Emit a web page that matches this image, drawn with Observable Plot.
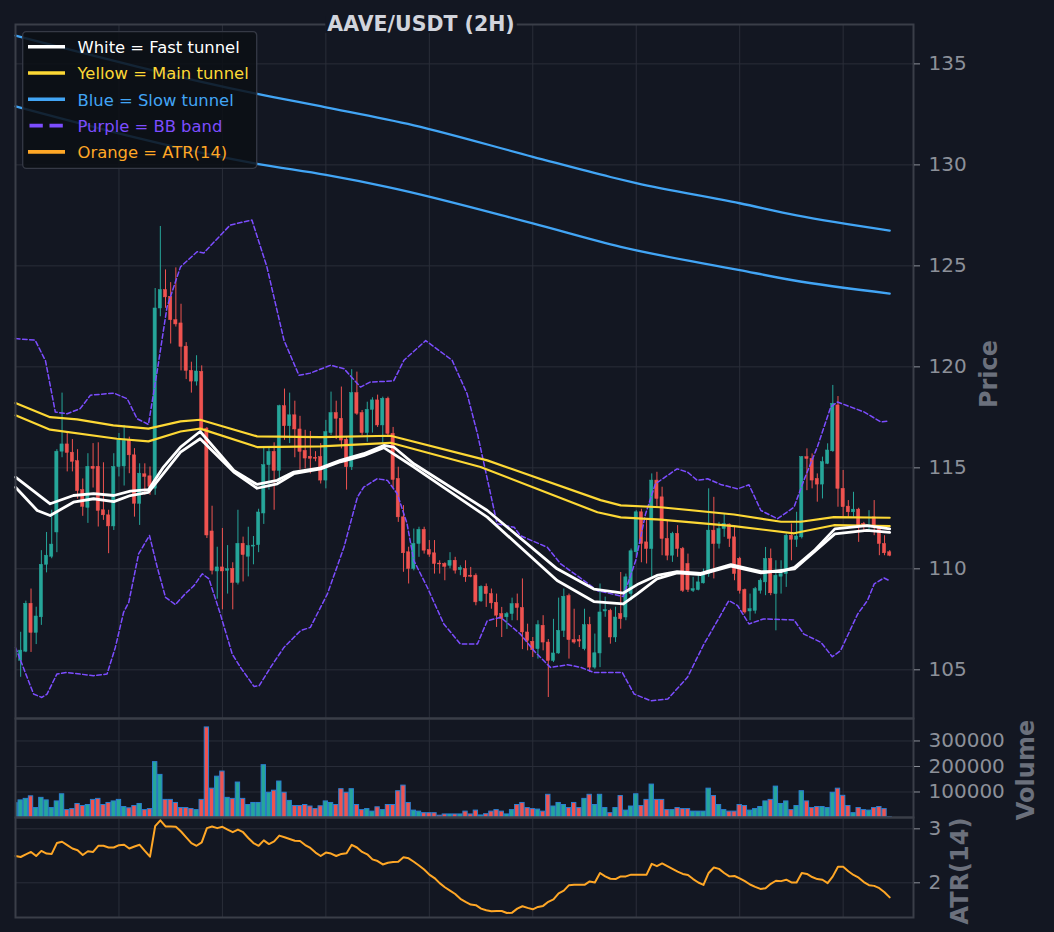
<!DOCTYPE html>
<html><head><meta charset="utf-8">
<script src="https://cdn.jsdelivr.net/npm/d3@7"></script>
<script src="https://cdn.jsdelivr.net/npm/@observablehq/plot@0.6"></script>
<style>
html,body{margin:0;padding:0;background:#131722;}
#wrap{position:relative;width:1054px;height:932px;background:#131722;overflow:hidden;font-family:"DejaVu Sans",sans-serif;}
#wrap svg{position:absolute;left:0;}
</style></head>
<body><div id="wrap"></div>
<script>
// ---------- data ----------
const OPEN = [105.6,105.45,105.9,108.27,106.83,107.6,110.2,110.6,111.8,115.8,
116.16,115.75,115.33,113.9,113.02,115.05,115.05,112.9,112.65,112.1,
115.04,115.07,116.33,115.62,113.22,114.68,114.58,113.97,122.89,123.8,
123.47,122.31,122.15,121.0,119.8,119.27,119.75,116.94,111.85,109.87,
110.07,109.9,110.0,109.3,111.24,110.6,111.1,111.17,112.74,115.13,
115.79,114.85,118.05,117.06,117.6,116.9,115.84,115.55,115.5,115.53,
114.37,116.72,117.71,117.43,116.39,115.03,118.7,117.71,116.72,117.87,
118.34,117.1,118.42,116.68,114.45,112.55,110.82,109.99,111.23,111.93,
110.93,110.77,110.26,110.24,110.15,110.4,109.94,109.99,109.66,109.66,
108.39,109.11,108.75,108.32,107.76,107.6,107.76,108.25,108.06,106.85,
106.39,106.02,107.18,106.35,105.44,105.81,106.93,108.65,106.47,106.47,
106.02,107.21,105.11,105.81,107.89,107.92,106.6,107.76,107.59,108.75,
110.82,112.8,111.31,110.98,114.37,113.54,111.48,110.65,111.73,110.98,
110.24,108.91,108.95,109.28,109.74,111.89,111.23,111.97,112.19,111.56,
110.49,108.95,107.89,107.92,108.91,109.33,110.49,108.75,109.61,109.74,
111.64,111.44,111.56,115.53,115.44,114.45,114.17,115.2,115.82,118.09,
113.96,113.08,112.8,112.93,112.22,112.06,112.55,112.06,111.23,110.82];
const HIGH = [106.6,106.86,108.4,109.0,108.1,110.9,111.8,112.9,115.9,118.7,
116.7,116.4,115.9,114.45,115.7,116.2,116.24,115.25,112.9,115.7,
116.7,117.1,116.52,115.95,115.2,115.2,115.04,123.88,126.95,124.8,
124.17,124.9,123.1,121.2,120.23,120.55,120.05,117.0,113.1,111.07,
112.0,111.15,110.3,112.9,111.57,112.06,111.6,112.95,116.0,116.03,
116.24,118.1,118.9,118.7,118.3,117.55,116.86,116.8,115.8,116.2,
117.35,118.75,118.3,119.0,116.55,119.86,119.74,117.84,118.25,118.47,
118.6,118.5,118.5,117.0,115.03,113.13,111.07,111.97,112.06,112.06,
111.4,111.4,110.4,110.3,110.8,110.57,110.15,110.4,110.07,109.75,
109.16,109.25,109.0,108.75,108.09,107.84,108.55,108.75,109.5,107.26,
106.6,107.43,107.68,106.5,107.5,108.55,109.0,108.75,108.0,106.7,
108.0,107.6,106.77,109.25,108.6,108.0,108.1,109.82,109.74,110.98,
112.88,112.95,112.39,114.7,114.78,114.04,112.39,111.81,112.14,111.06,
110.73,109.58,109.74,109.99,113.96,113.54,112.3,112.72,112.22,112.06,
110.57,109.0,108.75,109.08,109.5,111.06,110.98,110.4,110.4,111.73,
112.22,112.8,115.56,115.94,115.69,114.7,115.53,116.19,119.08,118.53,
114.87,113.38,113.79,113.0,112.3,112.88,113.38,112.14,111.64,110.9];
const LOW = [105.2,104.63,105.85,105.86,106.25,107.2,109.8,110.5,110.8,115.5,
114.8,114.8,113.45,112.6,112.25,114.0,112.07,112.4,110.75,111.9,
114.55,114.1,114.71,112.56,112.15,113.64,113.64,113.64,122.48,122.9,
121.13,121.97,119.8,119.37,118.7,119.05,116.8,111.5,109.7,108.5,
107.97,108.75,107.97,109.2,109.35,109.6,110.2,110.8,112.2,113.9,
112.9,114.22,116.36,116.2,115.5,114.9,114.95,114.7,115.3,114.2,
113.96,116.6,116.4,115.94,113.9,114.87,117.6,116.6,116.27,116.72,
117.0,116.2,116.5,114.0,112.3,109.83,109.25,109.9,110.57,110.73,
110.57,109.74,109.74,109.41,110.0,109.74,109.66,109.33,109.56,108.17,
108.34,108.09,108.0,107.1,106.6,107.0,107.43,107.43,106.0,105.94,
105.61,105.53,105.94,103.63,105.36,105.77,106.6,105.53,106.27,106.1,
105.94,104.87,105.03,105.11,107.6,106.27,106.35,107.01,107.43,108.42,
110.6,110.3,110.24,109.58,113.05,110.65,110.4,110.32,110.57,108.83,
108.83,108.83,108.91,109.25,109.58,109.5,110.98,111.56,111.06,109.41,
108.75,107.76,107.43,107.76,108.75,108.67,108.67,106.93,108.75,109.08,
110.4,111.06,111.48,113.87,113.96,113.3,113.46,115.16,115.77,113.05,
112.55,112.55,112.55,111.31,111.89,111.89,111.64,110.65,110.65,110.6];
const CLOSE = [106.0,105.95,108.27,106.83,107.64,110.2,110.65,111.2,115.8,116.16,
115.74,115.3,113.85,113.07,115.05,114.95,112.87,112.65,112.1,115.04,
116.36,116.33,115.62,113.22,114.71,114.55,114.05,122.89,123.8,123.44,
122.31,122.1,120.99,119.8,119.27,119.77,116.94,111.65,109.9,110.07,
109.87,109.98,109.3,111.24,110.68,111.13,111.15,112.79,115.13,115.79,
114.85,118.05,117.06,117.6,116.9,115.79,115.46,115.45,115.45,114.37,
116.77,117.71,117.43,116.35,115.03,118.7,117.68,116.72,117.87,118.34,
117.1,118.42,116.68,114.4,112.55,110.77,109.99,111.23,111.93,110.9,
110.7,110.24,110.22,110.1,110.4,109.91,110.04,109.58,109.61,108.34,
109.11,108.75,108.29,107.68,107.51,107.76,108.25,108.06,106.85,106.43,
105.97,107.21,106.35,105.44,105.81,106.93,108.62,106.47,106.35,106.4,
107.21,105.11,105.82,107.84,107.95,106.6,107.59,107.51,109.58,110.87,
112.8,111.23,110.98,114.37,113.46,111.48,110.65,111.73,110.98,108.91,
108.95,108.99,109.33,109.74,111.89,111.23,111.97,112.22,111.48,109.74,
108.91,107.84,108.0,108.99,109.41,110.49,108.79,109.66,109.74,111.64,
111.44,111.6,115.53,115.44,114.37,114.17,115.28,115.86,118.17,113.96,
113.05,112.8,112.93,112.06,112.06,112.14,112.06,111.23,110.77,110.65];
const VOLUME = [56000,67000,73000,83000,37000,77000,67000,37000,63000,91000,
29000,33000,53000,45000,49000,69000,73000,49000,57000,63000,
69000,41000,36000,45000,53000,29000,33000,217000,167000,69000,
69000,57000,37000,37000,33000,29000,69000,353000,113000,160000,
180000,77000,73000,137000,73000,49000,57000,57000,205000,97000,
105000,141000,97000,65000,45000,45000,49000,43000,33000,44000,
63000,57000,49000,111000,97000,111000,49000,29000,33000,23000,
40000,29000,49000,49000,103000,125000,57000,27000,23000,17000,
17000,17000,7000,12000,12000,12000,12000,23000,12000,27000,
8000,13000,23000,29000,23000,12000,29000,49000,57000,37000,
33000,31000,23000,89000,43000,57000,49000,37000,57000,37000,
73000,89000,49000,89000,37000,17000,37000,84000,27000,43000,
91000,45000,69000,129000,69000,69000,29000,29000,37000,33000,
33000,23000,23000,23000,113000,84000,49000,29000,23000,23000,
49000,45000,27000,33000,41000,63000,69000,121000,53000,63000,
29000,45000,103000,63000,37000,41000,41000,37000,97000,113000,
85000,45000,17000,37000,29000,27000,37000,41000,33000,1500];
const ATR = [2.497,2.478,2.528,2.572,2.497,2.591,2.541,2.535,2.736,2.761,
2.698,2.635,2.604,2.516,2.585,2.572,2.686,2.686,2.654,2.654,
2.698,2.704,2.635,2.673,2.704,2.591,2.484,3.05,3.157,3.044,
3.044,3.038,2.95,2.843,2.736,2.686,2.748,3.013,3.044,3.013,
3.038,2.987,2.937,2.987,2.937,2.83,2.736,2.686,2.786,2.717,
2.767,2.874,2.843,2.811,2.78,2.774,2.70,2.645,2.56,2.497,
2.56,2.541,2.497,2.535,2.547,2.704,2.654,2.572,2.528,2.434,
2.403,2.34,2.371,2.384,2.39,2.472,2.453,2.39,2.321,2.245,
2.151,2.088,1.994,1.918,1.855,1.792,1.704,1.648,1.597,1.585,
1.522,1.491,1.472,1.478,1.478,1.44,1.447,1.522,1.566,1.535,
1.509,1.553,1.572,1.648,1.692,1.805,1.855,1.956,1.962,1.962,
1.962,2.025,2.006,2.182,2.119,2.075,2.069,2.119,2.119,2.151,
2.151,2.151,2.151,2.352,2.308,2.358,2.308,2.258,2.208,2.164,
2.145,2.069,2.006,1.96,2.182,2.283,2.258,2.182,2.119,2.126,
2.082,2.031,1.969,1.925,1.887,1.9,1.981,2.038,2.031,2.057,
2.006,2.006,2.182,2.164,2.107,2.069,2.057,1.994,2.119,2.296,
2.296,2.214,2.145,2.094,2.013,1.956,1.943,1.9,1.824,1.73];

const FAST_UP_IDX = [0,6.7,11.2,15.1,19,22.2,25.7,28.6,31.9,35.7,42.2,46.7,50.6,53.8,59,62.8,67.3,71.2,73.1,77,91.2,104.7,111.8,117.5,120.2,124,127.9,132.5,138.3,144.1,148,150.6,154.4,158.4,164.6,169];
const FAST_UP_VAL = [114.54,113.22,113.63,113.72,113.63,113.85,113.92,115.04,116.03,116.80,114.87,114.18,114.38,114.79,115.0,115.37,115.70,116.11,116.03,115.2,112.89,110.0,109.0,108.8,109.22,109.67,109.86,109.78,110.21,109.86,109.86,110.08,110.9,111.98,112.14,111.98];
const FAST_LO_IDX = [0,4.2,6.7,11.2,15.1,19,22.2,25.7,31.9,35.7,42.2,46.7,50.6,53.8,59,62.8,67.3,71.2,77,91.2,104.7,111.8,117.5,120.2,124,127.9,132.5,138.3,144.1,150.6,158.4,164.6,169];
const FAST_LO_VAL = [114.04,112.89,112.64,113.30,113.47,113.33,113.63,113.79,115.78,116.44,114.79,113.99,114.21,114.71,114.95,115.3,115.6,116.0,115.04,112.56,109.42,108.38,108.26,108.76,109.5,109.8,109.72,110.13,109.8,110.0,111.73,111.9,111.81];
const MAIN_UP_IDX = [0,6.7,11.9,18.9,25.7,31.9,35.7,46.7,59,72.5,91.2,113.1,117,124.7,138.9,148,151.8,158.2,169];
const MAIN_UP_VAL = [118.21,117.51,117.40,117.10,116.94,117.30,117.38,116.56,116.52,116.59,115.37,113.4,113.14,113.05,112.69,112.33,112.33,112.56,112.53];
const MAIN_LO_IDX = [0,6.7,19.6,25.7,31.9,35.7,46.7,59,72.5,89.9,112.5,117,124.7,138.9,150.5,158.2,169];
const MAIN_LO_VAL = [117.60,116.89,116.44,116.31,116.80,116.94,116.03,116.06,116.24,115.04,112.80,112.55,112.44,112.11,111.76,112.16,112.11];
const SLOW_UP_IDX = [0,47,60,77,100,115,120,140,151,169];
const SLOW_UP_VAL = [136.4,133.5,132.85,131.96,130.4,129.4,129.1,128.1,127.5,126.75];
const SLOW_LO_IDX = [0,47,60,72,100,117,140,150,169];
const SLOW_LO_VAL = [132.9,130.04,129.5,128.9,127.1,125.94,124.79,124.3,123.63];
const BB_UP_IDX = [0,3.8,5.8,7.7,10,12.5,14.5,19,21.6,23.5,25.7,27.4,29.3,31.9,35.1,36.4,41.5,45.7,48.6,51.9,54.8,57,60.9,63.5,66.7,68.6,73.1,75.1,79.3,84.4,87.3,89.3,93.1,96.4,97.6,102.8,105.4,109.9,112.5,117.5,119.9,121.8,123.7,127.9,129.9,131.8,133.8,136.3,139.6,141.8,144.1,147.3,150.5,152.4,155,157.6,158.9,164.1,167.3,168.6];
const BB_UP_VAL = [121.4,121.32,120.3,117.76,117.68,117.93,118.6,118.7,118.42,117.43,117.15,119.8,122.97,124.95,125.70,125.64,127.02,127.27,124.95,121.32,119.58,119.69,120.08,119.91,119.0,119.25,119.30,120.33,121.3,120.33,118.67,116.69,112.23,112.06,111.64,111.07,110.24,109.42,108.92,108.63,110.41,112.72,114.21,114.95,114.79,114.38,114.46,114.18,113.96,114.16,112.89,112.48,113.05,114.38,116.03,118.01,118.26,117.76,117.27,117.31];
const BB_LO_IDX = [0,3.5,5.1,6.1,8,9.9,15.1,17.7,19.3,20.9,21.9,23.8,25.9,27.4,29,30.9,32.8,34.5,36.1,37.4,39.6,41.9,43.5,46.1,47.1,49.3,51.9,55.1,57,60.3,63.5,66.1,67.3,69.9,71.9,73.8,75.7,77,79.6,82.8,86,89.3,91.2,93.8,97.6,100.2,103.4,106.7,109.3,111.8,117.3,119.6,122.8,126.1,129.9,133.1,135.7,137.9,139.6,141.8,144.6,150.5,152.4,155.7,157.9,159.5,162.8,164.7,166,167.9,168.9];
const BB_LO_VAL = [106.11,103.80,103.63,103.80,104.79,104.87,104.71,104.79,106.11,107.85,108.34,110.74,111.65,110.08,108.59,108.23,108.76,109.17,109.75,109.5,107.76,105.78,105.12,104.18,104.21,105.12,106.11,106.94,107.10,108.76,111.07,113.55,114.04,114.46,114.38,113.72,112.23,110.41,109.09,107.27,106.28,106.28,107.43,107.60,106.77,105.95,105.12,105.25,105.12,104.87,104.87,103.80,103.47,103.55,104.63,106.28,107.43,108.43,108.18,107.27,107.52,107.47,106.77,106.36,105.65,105.95,107.76,108.43,109.25,109.55,109.42];

const PRICE_TICKS = [105,110,115,120,125,130,135];
const VOLUME_TICKS = [100000,200000,300000];
const ATR_TICKS = [2,3];
const X_GRID = [20,40,60,80,100,120,140,160];
const TITLE = "AAVE/USDT (2H)";
const LEGEND = [
  {label:"White = Fast tunnel", color:"#ffffff", dash:null},
  {label:"Yellow = Main tunnel", color:"#fdd835", dash:null},
  {label:"Blue = Slow tunnel", color:"#42a5f5", dash:null},
  {label:"Purple = BB band", color:"#7c4dff", dash:"13.3,6.7"},
  {label:"Orange = ATR(14)", color:"#ffa726", dash:null}
];

// ---------- build ----------
const UP = "#26a69a", DOWN = "#ef5350";
const GRID = "#2a2e39", FRAME = "#3a3e48", TICK = "#8c9099", LABEL = "#6b707c";
const candles = OPEN.map((o, i) => ({i, o, h: HIGH[i], l: LOW[i], c: CLOSE[i], v: VOLUME[i], a: ATR[i]}));
const colorOf = d => (d.c >= d.o ? UP : DOWN);
const pts = (idx, val) => idx.map((x, k) => ({x, y: val[k]}));
const X_DOMAIN = [0, 173.6];
const wrap = document.getElementById("wrap");

function panel({top, height, mt, mb, yDomain, ticks, tickFormat, marks}) {
  const svg = Plot.plot({
    width: 1054, height,
    marginLeft: 15, marginRight: 141, marginTop: mt, marginBottom: mb,
    style: {background: "transparent", overflow: "visible", color: TICK, fontFamily: "DejaVu Sans", fontSize: "20px"},
    x: {domain: X_DOMAIN, axis: null},
    y: {domain: yDomain},
    color: {type: "identity"},
    marks: [
      Plot.gridX(X_GRID, {stroke: GRID, strokeOpacity: 1, strokeWidth: 1}),
      Plot.gridY(ticks, {stroke: GRID, strokeOpacity: 1, strokeWidth: 1}),
      ...marks,
      Plot.frame({stroke: FRAME, strokeWidth: 2}),
      Plot.axisY(ticks, {anchor: "right", tickSize: 6, tickPadding: 9, tickFormat, fontSize: 20, label: null, stroke: TICK, fill: TICK})
    ]
  });
  svg.style.position = "absolute";
  svg.style.top = top + "px";
  svg.style.left = "0px";
  wrap.appendChild(svg);
}

// price panel
panel({
  top: 0, height: 720, mt: 24, mb: 2,
  yDomain: [102.59, 136.95], ticks: PRICE_TICKS, tickFormat: d => String(d),
  marks: [
    Plot.ruleX(candles, {x: "i", y1: "l", y2: "h", stroke: colorOf, strokeWidth: 1, clip: true}),
    Plot.rect(candles, {x1: d => d.i - 0.31, x2: d => d.i + 0.31, y1: "o", y2: "c", fill: colorOf, stroke: colorOf, strokeWidth: 0.5, clip: true}),
    Plot.line(pts(BB_UP_IDX, BB_UP_VAL), {x: "x", y: "y", stroke: "#7c4dff", strokeWidth: 1.5, strokeDasharray: "4.5,2.6"}),
    Plot.line(pts(BB_LO_IDX, BB_LO_VAL), {x: "x", y: "y", stroke: "#7c4dff", strokeWidth: 1.5, strokeDasharray: "4.5,2.6"}),
    Plot.line(pts(SLOW_UP_IDX, SLOW_UP_VAL), {x: "x", y: "y", stroke: "#42a5f5", strokeWidth: 2.3, curve: "monotone-x"}),
    Plot.line(pts(SLOW_LO_IDX, SLOW_LO_VAL), {x: "x", y: "y", stroke: "#42a5f5", strokeWidth: 2.3, curve: "monotone-x"}),
    Plot.line(pts(MAIN_UP_IDX, MAIN_UP_VAL), {x: "x", y: "y", stroke: "#fdd835", strokeWidth: 2.2}),
    Plot.line(pts(MAIN_LO_IDX, MAIN_LO_VAL), {x: "x", y: "y", stroke: "#fdd835", strokeWidth: 2.2}),
    Plot.line(pts(FAST_UP_IDX, FAST_UP_VAL), {x: "x", y: "y", stroke: "#ffffff", strokeWidth: 2.8}),
    Plot.line(pts(FAST_LO_IDX, FAST_LO_VAL), {x: "x", y: "y", stroke: "#ffffff", strokeWidth: 2.8})
  ]
});

// volume panel
panel({
  top: 700, height: 130, mt: 18, mb: 13,
  yDomain: [0, 388000], ticks: VOLUME_TICKS, tickFormat: d => String(d),
  marks: [
    Plot.rect(candles, {x1: d => d.i - 0.42, x2: d => d.i + 0.42, y1: 0, y2: "v", fill: colorOf, stroke: "#2b7fd1", strokeWidth: 1, clip: true})
  ]
});

// ATR panel
panel({
  top: 800, height: 132, mt: 17, mb: 15,
  yDomain: [1.357, 3.21], ticks: ATR_TICKS, tickFormat: d => String(d),
  marks: [
    Plot.line(candles, {x: "i", y: "a", stroke: "#ffa726", strokeWidth: 2})
  ]
});

// overlay: title, axis labels, legend
const ov = d3.create("svg").attr("width", 1054).attr("height", 932)
  .style("position", "absolute").style("left", "0px").style("top", "0px")
  .attr("font-family", "DejaVu Sans");
const tt = ov.append("text").attr("x", 421).attr("y", 31).attr("text-anchor", "middle")
  .attr("font-size", 20.5).attr("font-weight", "bold").attr("fill", "#d1d4dc").text(TITLE);
wrap.appendChild(ov.node());
const bb = tt.node().getBBox();
ov.insert("rect", "text").attr("x", bb.x - 2).attr("y", 16).attr("width", bb.width + 4).attr("height", 17).attr("fill", "#131722");

[["Price", 989, 374], ["Volume", 1026, 770], ["ATR(14)", 960, 871]].forEach(([t, x, y]) => {
  ov.append("text").attr("transform", `translate(${x},${y}) rotate(-90)`)
    .attr("text-anchor", "middle").attr("dominant-baseline", "central")
    .attr("font-size", 24).attr("font-weight", "bold").attr("fill", LABEL).text(t);
});

const lg = ov.append("g");
lg.append("rect").attr("x", 22.7).attr("y", 31.7).attr("width", 234).attr("height", 136.6).attr("rx", 3.5)
  .attr("fill", "#0c0f15").attr("fill-opacity", 0.86).attr("stroke", "#353945").attr("stroke-width", 1.3);
LEGEND.forEach((it, k) => {
  const y = 46.7 + k * 26.3;
  const ln = lg.append("line").attr("x1", it.dash ? 29.5 : 28).attr("x2", it.dash ? 64 : 65).attr("y1", y).attr("y2", y)
    .attr("stroke", it.color).attr("stroke-width", 3.6);
  if (it.dash) ln.attr("stroke-dasharray", it.dash);
  lg.append("text").attr("x", 77.5).attr("y", y + 6.4).attr("font-size", 16.4).attr("fill", it.color).text(it.label);
});
</script>
</body></html>
